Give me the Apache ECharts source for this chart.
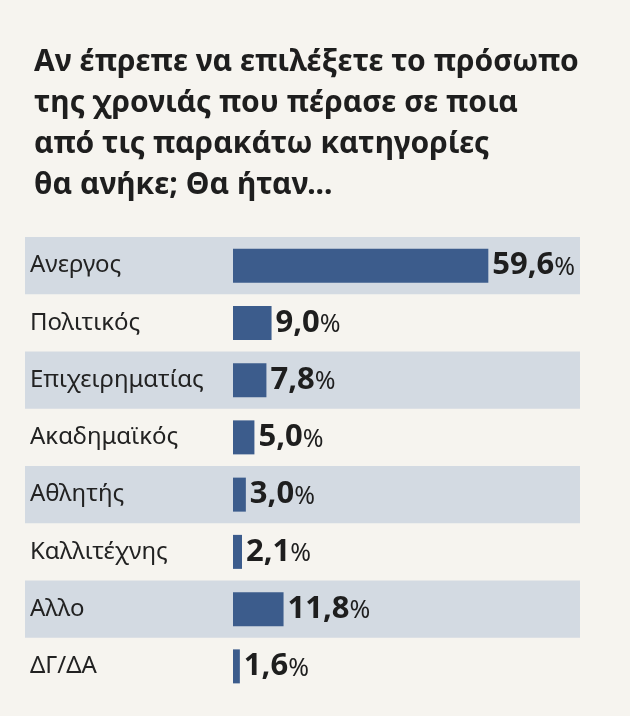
<!DOCTYPE html>
<html>
<head>
<meta charset="utf-8">
<script src="https://cdn.jsdelivr.net/npm/echarts@6/dist/echarts.min.js"></script>
<style>
  html, body { margin: 0; padding: 0; background: #f6f4ef; }
  #main { width: 630px; height: 716px; }
</style>
</head>
<body>
<div id="main"></div>
<script>
// categories and values
var categories = ['Ανεργος', 'Πολιτικός', 'Επιχειρηματίας', 'Ακαδημαϊκός', 'Αθλητής', 'Καλλιτέχνης', 'Αλλο', 'ΔΓ/ΔΑ'];
var values = [59.6, 9.0, 7.8, 5.0, 3.0, 2.1, 11.8, 1.6];
var titleLines = ['Αν έπρεπε να επιλέξετε το πρόσωπο', 'της χρονιάς που πέρασε σε ποια', 'από τις παρακάτω κατηγορίες', 'θα ανήκε; Θα ήταν...'];

var font = '"Noto Sans", "Open Sans", sans-serif';
var chart = echarts.init(document.getElementById('main'), null, { renderer: 'canvas' });

var option = {
  backgroundColor: '#f6f4ef',
  title: {
    text: titleLines.join('\n'),
    left: 29,
    top: 37,
    textStyle: {
      fontFamily: font,
      fontSize: 30,
      fontWeight: 'bold',
      color: '#1e1e1e',
      lineHeight: 41
    }
  },
  grid: [
    { left: 25, right: 50, top: 237, height: 458 },   // striped rows + labels
    { left: 233, right: 50, top: 237, height: 458 }   // bars
  ],
  xAxis: [
    { gridIndex: 0, type: 'value', show: false, min: 0, max: 1 },
    { gridIndex: 1, type: 'value', show: false, min: 0, max: 81 }
  ],
  yAxis: [
    {
      gridIndex: 0,
      type: 'category',
      inverse: true,
      data: categories,
      axisLine: { show: false },
      axisTick: { show: false },
      splitArea: {
        show: true,
        areaStyle: { color: ['#d3dae2', 'rgba(0,0,0,0)'] }
      },
      axisLabel: {
        inside: true,
        align: 'left',
        margin: 5,
        fontFamily: font,
        fontSize: 24,
        color: '#222'
      }
    },
    {
      gridIndex: 1,
      type: 'category',
      inverse: true,
      data: categories,
      show: false
    }
  ],
  series: [{
    type: 'bar',
    xAxisIndex: 1,
    yAxisIndex: 1,
    data: values,
    barWidth: 34,
    itemStyle: { color: '#3c5c8c' },
    label: {
      show: true,
      position: 'right',
      distance: 4,
      formatter: function (p) {
        return '{n|' + p.value.toFixed(1).replace('.', ',') + '}{p|%}';
      },
      rich: {
        n: { fontFamily: font, fontSize: 31, fontWeight: 'bold', color: '#1e1e1e' },
        p: { fontFamily: font, fontSize: 25, color: '#1e1e1e', padding: [4, 0, 0, 0] }
      }
    }
  }]
};
chart.setOption(option);
</script>
</body>
</html>
